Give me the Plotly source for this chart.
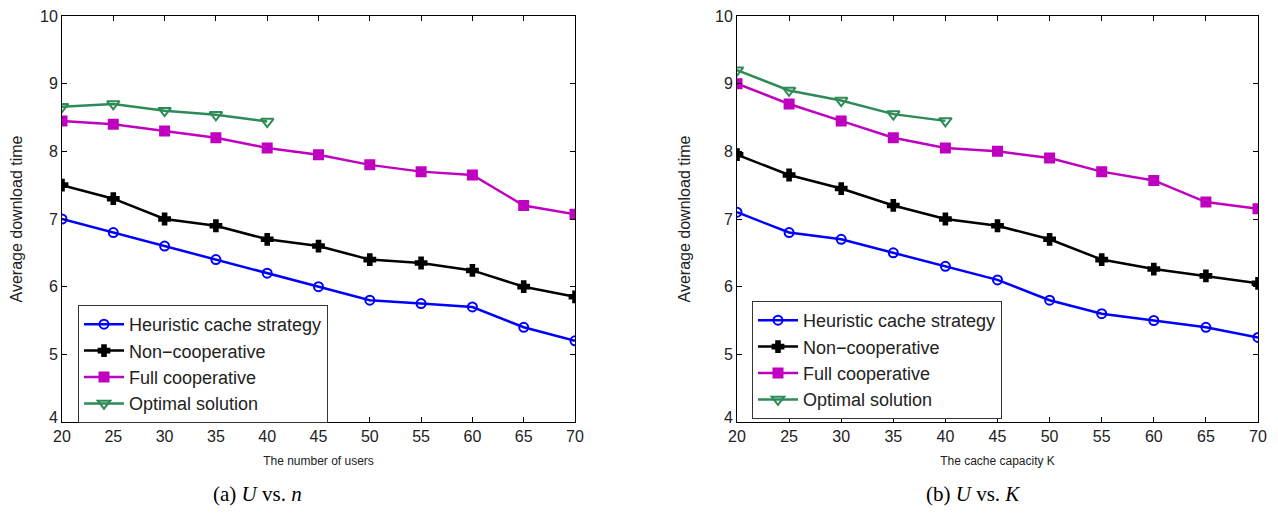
import plotly.graph_objects as go
from plotly.subplots import make_subplots

x_vals = [20, 25, 30, 35, 40, 45, 50, 55, 60, 65, 70]
x_opt = [20, 25, 30, 35, 40]
y_ticks = [5, 6, 7, 8, 9, 10]

# (a) U vs n
a_heuristic = [7.0, 6.8, 6.6, 6.4, 6.2, 6.0, 5.8, 5.75, 5.7, 5.4, 5.2]
a_noncoop = [7.5, 7.3, 7.0, 6.9, 6.7, 6.6, 6.4, 6.35, 6.24, 6.0, 5.85]
a_full = [8.45, 8.4, 8.3, 8.2, 8.05, 7.95, 7.8, 7.7, 7.65, 7.2, 7.07]
a_optimal = [8.66, 8.7, 8.6, 8.54, 8.44]

# (b) U vs K
b_heuristic = [7.1, 6.8, 6.7, 6.5, 6.3, 6.1, 5.8, 5.6, 5.5, 5.4, 5.25]
b_noncoop = [7.95, 7.65, 7.45, 7.2, 7.0, 6.9, 6.7, 6.4, 6.26, 6.16, 6.05]
b_full = [9.0, 8.7, 8.45, 8.2, 8.05, 8.0, 7.9, 7.7, 7.57, 7.25, 7.15]
b_optimal = [9.2, 8.9, 8.75, 8.55, 8.45]

names = ["Heuristic cache strategy", "Non\u2212cooperative", "Full cooperative", "Optimal solution"]
colors = ["#0000FF", "#000000", "#C000C0", "#2E8B57"]
symbols = ["circle-open", "cross", "square", "triangle-down-open"]
sizes = [9, 9, 9, 11]

x_titles = ["The number of users", "The cache capacity K"]
captions = ["(a) <i>U</i> vs. <i>n</i>", "(b) <i>U</i> vs. <i>K</i>"]

# page body has an 8px margin; figure is sized to fit inside the window
W, H, OFF = 1262, 508, 8

def px(v):
    return (v - OFF) / W

def py(v):
    return 1 - (v - OFF) / H

fig = make_subplots(rows=1, cols=2)

datasets = [
    [(x_vals, a_heuristic), (x_vals, a_noncoop), (x_vals, a_full), (x_opt, a_optimal)],
    [(x_vals, b_heuristic), (x_vals, b_noncoop), (x_vals, b_full), (x_opt, b_optimal)],
]

for ci, series in enumerate(datasets):
    for si, (xs, ys) in enumerate(series):
        fig.add_trace(
            go.Scatter(
                x=xs, y=ys, mode="lines+markers", name=names[si],
                line=dict(color=colors[si], width=2.5),
                marker=dict(symbol=symbols[si], size=sizes[si], color=colors[si],
                            line=dict(color=colors[si], width=2)),
                legend="legend" if ci == 0 else "legend2",
                showlegend=True,
            ),
            row=1, col=ci + 1,
        )

axis_font = dict(family="Liberation Sans, Arial", size=16, color="#222222")
dom_x = [[px(62), px(575)], [px(737), px(1258)]]
dom_y = [py(422), py(16)]

for ci in range(2):
    fig.update_xaxes(
        range=[20, 70], tickvals=x_vals, ticks="inside", ticklen=5, tickcolor="black",
        showline=True, linecolor="black", linewidth=1, mirror="ticks", showgrid=False,
        zeroline=False, tickfont=axis_font, domain=dom_x[ci], automargin=False,
        ticklabeloverflow="allow",
        title=dict(text=x_titles[ci], font=dict(family="Liberation Sans, Arial", size=12, color="#222222"), standoff=12),
        row=1, col=ci + 1,
    )
    fig.update_yaxes(
        range=[4, 10], tickvals=y_ticks, ticks="inside", ticklen=5, tickcolor="black",
        showline=True, linecolor="black", linewidth=1, mirror="ticks", showgrid=False,
        zeroline=False, tickfont=axis_font, domain=dom_y, automargin=False,
        ticklabeloverflow="allow",
        title=dict(text="Average download time", font=dict(family="Liberation Sans, Arial", size=16, color="#222222"), standoff=20),
        row=1, col=ci + 1,
    )
    # the "4" tick label, lifted above the "20" as in the reference
    fig.add_annotation(text="4", xref=f"x{'' if ci == 0 else 2} domain", yref=f"y{'' if ci == 0 else 2}",
                       x=0, y=4, xanchor="right", yanchor="bottom", xshift=-2, yshift=-6,
                       showarrow=False, font=axis_font)
    fig.add_annotation(text=captions[ci], xref="paper", yref="paper",
                       x=px([257, 973][ci]), y=py(494), xanchor="center", yanchor="middle",
                       showarrow=False,
                       font=dict(family="Liberation Serif, Times New Roman", size=21, color="black"))

legend_common = dict(
    bgcolor="white", bordercolor="#333333", borderwidth=1,
    font=dict(family="Liberation Sans, Arial", size=18, color="#222222"),
    xanchor="left", yanchor="top", itemwidth=40, tracegroupgap=0,
)
fig.update_layout(
    legend=dict(x=px(78), y=py(305), **legend_common),
    legend2=dict(x=px(752), y=py(301), **legend_common),
)

fig.update_layout(
    width=W, height=H, margin=dict(l=0, r=0, t=0, b=0),
    paper_bgcolor="white", plot_bgcolor="white",
)

fig.write_html("out.html")
